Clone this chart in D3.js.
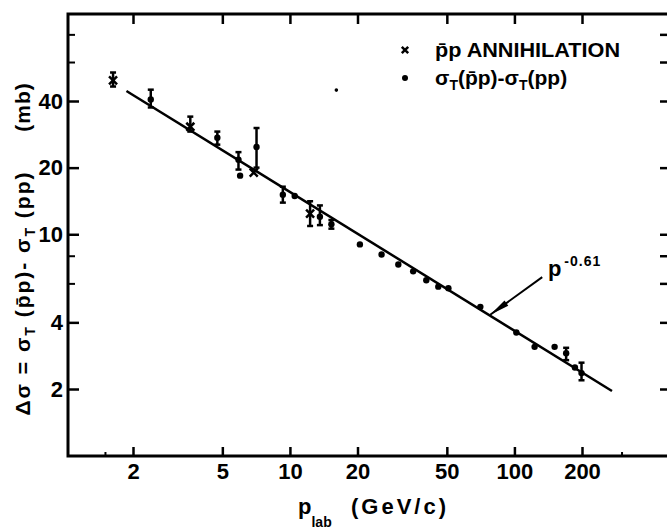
<!DOCTYPE html>
<html><head><meta charset="utf-8">
<script src="https://cdn.jsdelivr.net/npm/d3@7"></script>
<style>
body{margin:0;background:#fff}
svg{display:block}
text{font-family:"Liberation Sans",Arial,sans-serif;fill:#000;font-weight:bold}
</style>
</head><body><svg id="c" width="667" height="531"></svg>
<script>
// ---- data ----
const xTicks = [2, 5, 10, 20, 50, 100, 200];
const xMinorTicks = [1.5, 300];
const yTicks = [2, 4, 10, 20, 40];
const yMinorTicks = [6, 8, 60, 80];

// sigma_T(pbar p) - sigma_T(pp)  (dots)
const diffP  = [2.4, 4.75, 5.9, 6.0, 7.1, 9.3, 10.5, 13.6, 15.3, 20.5, 25.6, 30.4, 35.4, 40.5, 45.8, 50.8, 70.5, 102, 123, 151, 170, 186, 199];
const diffS  = [40.6, 27.3, 21.7, 18.4, 24.8, 15.1, 14.9, 12.0, 11.1, 9.0, 8.1, 7.3, 6.8, 6.2, 5.8, 5.7, 4.7, 3.6, 3.1, 3.1, 2.9, 2.5, 2.36];
const diffLo = [37.4, 25.4, 19.6, null, 20.0, 13.9, null, 11.0, 10.6, null, null, null, null, null, null, null, null, null, null, null, 2.70, null, 2.19];
const diffHi = [45.0, 29.1, 23.5, null, 30.2, 16.4, null, 13.5, 11.6, null, null, null, null, null, null, null, null, null, null, null, 3.07, null, 2.63];

// small isolated mark in the scan
const strayP = [16.1];
const strayS = [44.8];

// pbar p annihilation (crosses)
const annP  = [1.63, 3.6, 6.9, 12.3];
const annS  = [49.6, 30.6, 19.0, 12.4];
const annLo = [46.5, 29.1, null, 10.9];
const annHi = [53.8, 34.0, null, 14.1];

// fitted power law p^-0.61 (end points)
const fitP = [1.87, 272];
const fitS = [44.4, 1.96];
const fitLabel = "-0.61";

// annotation arrow (data coordinates)
const arrowFrom = [133, 6.4];
const arrowTo = [78, 4.33];
const labelAt = [141, 6.9];

const legendLabels = ["p\u0304p ANNIHILATION", "\u03C3T(p\u0304p)-\u03C3T(pp)"];

// ---- drawing ----
const svg = d3.select("#c");
const x = d3.scaleLog().domain([2, 200]).range([133, 582]);
const y = d3.scaleLog().domain([2, 40]).range([389, 101]);
const frame = {l: 68, t: 14, b: 456, r: 669};
const FS = 22;

// frame
svg.append("path")
  .attr("d", `M${frame.r},${frame.t}H${frame.l}V${frame.b}H${frame.r}`)
  .attr("fill", "none").attr("stroke", "#000").attr("stroke-width", 3);

function styleAxis(g, sw) {
  g.select(".domain").remove();
  g.selectAll(".tick line").attr("stroke", "#000").attr("stroke-width", sw);
  g.selectAll(".tick text").attr("fill", "#000");
  g.attr("font-family", null).attr("font-size", FS);
}

svg.append("g").attr("transform", `translate(0,${frame.b})`)
  .call(d3.axisBottom(x).tickValues(xTicks).tickSize(-9).tickPadding(7).tickFormat(d3.format("d")))
  .call(g => styleAxis(g, 2.5));
svg.append("g").attr("transform", `translate(0,${frame.b})`)
  .call(d3.axisBottom(x).tickValues(xMinorTicks).tickSize(-4).tickFormat(""))
  .call(g => styleAxis(g, 2));
svg.append("g").attr("transform", `translate(0,${frame.t})`)
  .call(d3.axisTop(x).tickValues(xTicks).tickSize(-10).tickFormat(""))
  .call(g => styleAxis(g, 2.5));

svg.append("g").attr("transform", `translate(${frame.l},0)`)
  .call(d3.axisLeft(y).tickValues(yTicks).tickSize(-11).tickPadding(5).tickFormat(d3.format("d")))
  .call(g => styleAxis(g, 2.5));
svg.append("g").attr("transform", `translate(${frame.l},0)`)
  .call(d3.axisLeft(y).tickValues(yMinorTicks).tickSize(-7).tickFormat(""))
  .call(g => styleAxis(g, 2));
svg.append("g").attr("transform", `translate(${frame.r},0)`)
  .call(d3.axisRight(y).tickValues(yTicks.concat(yMinorTicks)).tickSize(-9).tickFormat(""))
  .call(g => styleAxis(g, 2.5));

// fit line
const fit = fitP.map((p, i) => ({p, s: fitS[i]}));
svg.append("path").datum(fit)
  .attr("d", d3.line().x(d => x(d.p)).y(d => y(d.s)))
  .attr("fill", "none").attr("stroke", "#000").attr("stroke-width", 2.5);

// error bars
function errBars(P, S, Lo, Hi) {
  const d = P.map((p, i) => ({p, s: S[i], lo: Lo[i], hi: Hi[i]})).filter(d => d.lo != null);
  const g = svg.append("g").attr("stroke", "#000").attr("stroke-width", 2.5);
  g.selectAll("line.v").data(d).join("line")
    .attr("x1", d => x(d.p)).attr("x2", d => x(d.p))
    .attr("y1", d => y(d.lo)).attr("y2", d => y(d.hi));
  g.selectAll("line.c1").data(d).join("line")
    .attr("x1", d => x(d.p) - 3).attr("x2", d => x(d.p) + 3)
    .attr("y1", d => y(d.hi)).attr("y2", d => y(d.hi));
  g.selectAll("line.c2").data(d).join("line")
    .attr("x1", d => x(d.p) - 3).attr("x2", d => x(d.p) + 3)
    .attr("y1", d => y(d.lo)).attr("y2", d => y(d.lo));
}
errBars(diffP, diffS, diffLo, diffHi);
errBars(annP, annS, annLo, annHi);

// dots
svg.append("g").selectAll("circle")
  .data(diffP.map((p, i) => ({p, s: diffS[i]})))
  .join("circle").attr("cx", d => x(d.p)).attr("cy", d => y(d.s)).attr("r", 3.2).attr("fill", "#000");
svg.append("g").selectAll("circle")
  .data(strayP.map((p, i) => ({p, s: strayS[i]})))
  .join("circle").attr("cx", d => x(d.p)).attr("cy", d => y(d.s)).attr("r", 1.8).attr("fill", "#000");

// crosses
const cross = r => `M${-r},${-r}L${r},${r}M${-r},${r}L${r},${-r}`;
svg.append("g").selectAll("path")
  .data(annP.map((p, i) => ({p, s: annS[i]})))
  .join("path").attr("transform", d => `translate(${x(d.p)},${y(d.s)})`)
  .attr("d", cross(4)).attr("stroke", "#000").attr("stroke-width", 2.5).attr("fill", "none");

// annotation arrow
const ax0 = x(arrowFrom[0]), ay0 = y(arrowFrom[1]), ax1 = x(arrowTo[0]), ay1 = y(arrowTo[1]);
svg.append("line").attr("x1", ax0).attr("y1", ay0).attr("x2", ax1).attr("y2", ay1)
  .attr("stroke", "#000").attr("stroke-width", 2);
{
  const dx = ax0 - ax1, dy = ay0 - ay1, L = Math.hypot(dx, dy), ux = dx / L, uy = dy / L;
  const bx = ax1 + ux * 20, by = ay1 + uy * 20;
  svg.append("path")
    .attr("d", `M${ax1},${ay1}L${bx - uy * 3.2},${by + ux * 3.2}L${bx + uy * 3.2},${by - ux * 3.2}Z`)
    .attr("fill", "#000");
}
const lab = svg.append("text").attr("x", x(labelAt[0])).attr("y", y(labelAt[1]) + 6).attr("font-size", 22);
lab.append("tspan").text("p");
lab.append("tspan").attr("dy", -10).attr("dx", 3).attr("font-size", 14).attr("letter-spacing", 1).text(fitLabel);

// legend
const leg = svg.append("g");
leg.append("path").attr("transform", "translate(405,50)").attr("d", cross(3.2))
  .attr("stroke", "#000").attr("stroke-width", 2.5);
leg.append("circle").attr("cx", 405).attr("cy", 78).attr("r", 3).attr("fill", "#000");
leg.append("text").attr("x", 435).attr("y", 57).attr("font-size", 21).attr("textLength", 185)
  .attr("lengthAdjust", "spacingAndGlyphs").text(legendLabels[0]);
{
  const t = leg.append("text").attr("x", 435).attr("y", 85).attr("font-size", 21);
  const parts = legendLabels[1].split("T");
  t.append("tspan").text(parts[0]);
  t.append("tspan").attr("dy", 5).attr("font-size", 14).text("T");
  t.append("tspan").attr("dy", -5).text(parts[1]);
  t.append("tspan").attr("dy", 5).attr("font-size", 14).text("T");
  t.append("tspan").attr("dy", -5).text(parts[2]);
}

// y title
{
  const t = svg.append("text").attr("transform", "translate(30,293) rotate(-90)")
    .attr("text-anchor", "middle").attr("font-size", 21).attr("letter-spacing", 2);
  t.append("tspan").text("\u0394\u03C3 = \u03C3");
  t.append("tspan").attr("dy", 5).attr("font-size", 14).text("T");
  t.append("tspan").attr("dy", -5).text(" (p\u0304p)- \u03C3");
  t.append("tspan").attr("dy", 5).attr("font-size", 14).text("T");
  t.append("tspan").attr("dy", -5).text(" (pp)");
  svg.append("text").attr("transform", "translate(30,107) rotate(-90)")
    .attr("text-anchor", "middle").attr("font-size", 21).attr("letter-spacing", 1).text("(mb)");
}

// x title
{
  const t = svg.append("text").attr("x", 298).attr("y", 514).attr("font-size", 22);
  t.append("tspan").text("p");
  t.append("tspan").attr("dy", 13).attr("font-size", 14).text("lab");
  svg.append("text").attr("x", 351).attr("y", 514).attr("font-size", 22)
    .attr("letter-spacing", 3).text("(GeV/c)");
}
</script>
</body></html>
